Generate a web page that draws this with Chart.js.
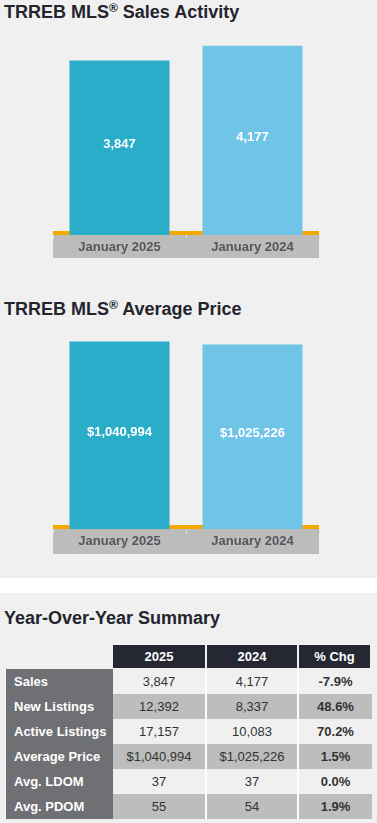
<!DOCTYPE html>
<html>
<head>
<meta charset="utf-8">
<script src="https://cdn.jsdelivr.net/npm/chart.js@4"></script>
<style>
  html, body { margin: 0; padding: 0; }
  body { width: 377px; height: 823px; background: #f0f0f0; position: relative; overflow: hidden;
         font-family: "Liberation Sans", Arial, sans-serif; }
  .title { position: absolute; left: 4px; font-size: 18px; font-weight: bold; color: #24242f; white-space: nowrap; }
  .title sup { font-size: 12px; line-height: 0; vertical-align: 6px; }
  .band { position: absolute; left: 0; top: 578px; width: 377px; height: 15px; background: #fff; }
  canvas { position: absolute; left: 0; }
  table { position: absolute; left: 6px; top: 645px; border-collapse: separate; border-spacing: 0; font-size: 13px; }
  td, th { padding: 0; text-align: center; height: 25px; color: #333; }
  th { background: #252833; color: #fff; font-weight: bold; height: 23px; border-bottom: 1px solid #f0f0f0; border-right: 2px solid #f0f0f0; }
  th.blank { background: transparent; border-right: none; }
  td.lab { background: #6e7073; color: #fff; font-weight: bold; text-align: left; padding-left: 8px; width: 99px; }
  td.v { border-right: 2px solid #fff; }
  td.pct { font-weight: bold; }
  tr.alt td.v, tr.alt td.pct { background: #bcbdbc; }
  tr.plain td.v, tr.plain td.pct { background: #f0f0f0; }
</style>
</head>
<body>
<div class="title" style="top:2px">TRREB MLS<sup>®</sup> Sales Activity</div>
<canvas id="c1" width="377" height="227" style="top:31px;width:377px;height:227px"></canvas>
<div class="title" style="top:299px">TRREB MLS<sup>®</sup> Average Price</div>
<canvas id="c2" width="377" height="223" style="top:331px;width:377px;height:223px"></canvas>
<div class="band"></div>
<div class="title" style="top:608px">Year-Over-Year Summary</div>
<table id="summary"></table>

<script>
const periods = ['January 2025', 'January 2024']
const sales = [3847, 4177]
const avgPrice = [1040994, 1025226]
const barColors = ['#2aadc8', '#70c4e8']

const tableHeads = ['2025', '2024', '% Chg']
const rowLabels = ['Sales', 'New Listings', 'Active Listings', 'Average Price', 'Avg. LDOM', 'Avg. PDOM']
const vals2025 = ['3,847', '12,392', '17,157', '$1,040,994', '37', '55']
const vals2024 = ['4,177', '8,337', '10,083', '$1,025,226', '37', '54']
const pctChg = ['-7.9%', '48.6%', '70.2%', '1.5%', '0.0%', '1.9%']

const FONT = '"Liberation Sans", Arial, sans-serif'

// gray label strip under the axis + orange baseline, drawn behind the bars
const stripPlugin = {
  id: 'strip',
  beforeDraw(chart) {
    const { ctx, chartArea } = chart
    const x = chart.scales.x
    ctx.save()
    ctx.fillStyle = '#bcbcbb'
    ctx.fillRect(chartArea.left, x.top, chartArea.right - chartArea.left, x.bottom - x.top)
    ctx.fillStyle = '#f5a800'
    ctx.fillRect(chartArea.left, chartArea.bottom - 4, chartArea.right - chartArea.left, 4)
    ctx.restore()
  }
}

// value written in the middle of each bar
const valuePlugin = {
  id: 'values',
  afterDatasetsDraw(chart, args, opts) {
    const { ctx } = chart
    const meta = chart.getDatasetMeta(0)
    ctx.save()
    ctx.fillStyle = '#fff'
    ctx.font = 'bold 13px ' + FONT
    ctx.textAlign = 'center'
    ctx.textBaseline = 'middle'
    meta.data.forEach((bar, i) => {
      const v = chart.data.datasets[0].data[i]
      ctx.fillText(opts.format(v), bar.x, (bar.y + bar.base - 4) / 2 - 1)
    })
    ctx.restore()
  }
}

function makeChart(id, values, yMax, stripHeight, fmt) {
  return new Chart(document.getElementById(id), {
    type: 'bar',
    data: {
      labels: periods,
      datasets: [{
        data: values,
        backgroundColor: barColors,
        hoverBackgroundColor: barColors,
        categoryPercentage: 1,
        barPercentage: 0.752,
      }]
    },
    options: {
      responsive: false,
      animation: false,
      events: [],
      layout: { padding: { left: 53, right: 58, top: 0, bottom: 0 } },
      plugins: {
        legend: { display: false },
        tooltip: { enabled: false },
        values: { format: fmt },
      },
      scales: {
        x: {
          afterFit: (scale) => { scale.height = stripHeight },
          border: { display: false },
          grid: { drawOnChartArea: false, drawTicks: true, tickLength: 4, color: '#dedede' },
          ticks: { color: '#55565e', font: { family: FONT, size: 13, weight: 'bold' }, padding: 1 },
        },
        y: { display: false, min: 0, max: yMax },
      }
    },
    plugins: [stripPlugin, valuePlugin]
  })
}

makeChart('c1', sales, 4500, 23, v => v.toLocaleString('en-US'))
makeChart('c2', avgPrice, 1100000, 25, v => '$' + v.toLocaleString('en-US'))

// summary table
const table = document.getElementById('summary')
let html = '<tr><th class="blank" style="width:107px"></th>'
tableHeads.forEach((h, i) => {
  const w = [92, 90, 71][i]
  html += `<th style="width:${w}px">${h}</th>`
})
html += '</tr>'
rowLabels.forEach((lab, i) => {
  html += `<tr class="${i % 2 ? 'alt' : 'plain'}"><td class="lab">${lab}</td>` +
    `<td class="v">${vals2025[i]}</td><td class="v">${vals2024[i]}</td><td class="pct">${pctChg[i]}</td></tr>`
})
table.innerHTML = html
</script>
</body>
</html>
